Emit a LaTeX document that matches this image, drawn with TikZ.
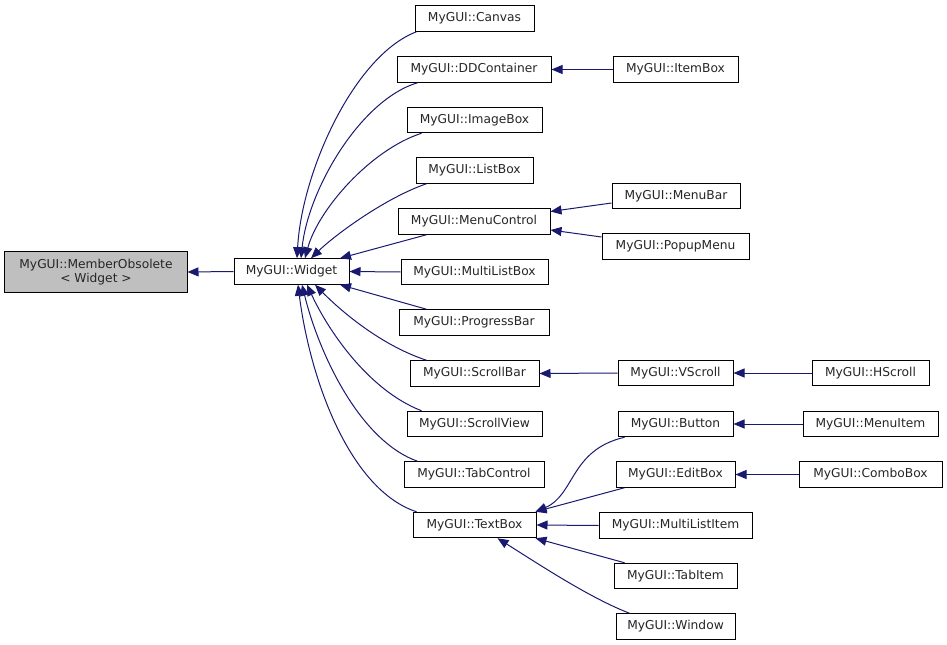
\documentclass[tikz,border=0pt]{standalone}
\usepackage{fontspec}
\setmainfont{DejaVu Sans}
\usetikzlibrary{arrows.meta}
\definecolor{edgeblue}{HTML}{191970}
\definecolor{grayfill}{HTML}{BFBFBF}
\tikzset{
  box/.style={draw=black, line width=1bp, fill=white, inner sep=0pt, minimum height=25.5bp,
    font=\fontsize{12.3}{14.5}\selectfont, text=black!85},
  arr/.style={draw=edgeblue, line width=1bp, {Triangle[length=11bp,width=9bp]}-},
}
\begin{document}
\begin{tikzpicture}[x=1bp,y=-1bp]
\useasboundingbox (0,0) rectangle (947,645);
% nodes
\node[box, fill=grayfill, minimum width=182bp, minimum height=40bp, align=center] (mo) at (96,272) {MyGUI::MemberObsolete\\[-1bp]{}< Widget >};
\node[box, minimum width=115bp] (widget) at (291.5,271.5) {MyGUI::Widget};
\node[box, minimum width=119bp] (canvas) at (474.5,18.5) {MyGUI::Canvas};
\node[box, minimum width=154bp] (ddc) at (474,69.5) {MyGUI::DDContainer};
\node[box, minimum width=135bp] (imagebox) at (474.5,120) {MyGUI::ImageBox};
\node[box, minimum width=117bp] (listbox) at (474.5,170.5) {MyGUI::ListBox};
\node[box, minimum width=152bp] (menuctl) at (474,221.5) {MyGUI::MenuControl};
\node[box, minimum width=147bp] (mlb) at (474.5,272) {MyGUI::MultiListBox};
\node[box, minimum width=150bp] (progress) at (474,322.5) {MyGUI::ProgressBar};
\node[box, minimum width=129bp] (scrollbar) at (474.5,373.5) {MyGUI::ScrollBar};
\node[box, minimum width=135bp] (scrollview) at (474.5,424) {MyGUI::ScrollView};
\node[box, minimum width=140bp] (tabctl) at (474,474.5) {MyGUI::TabControl};
\node[box, minimum width=123bp] (textbox) at (474.5,525) {MyGUI::TextBox};
\node[box, minimum width=125bp] (itembox) at (675.5,69.5) {MyGUI::ItemBox};
\node[box, minimum width=128bp] (menubar) at (676,196) {MyGUI::MenuBar};
\node[box, minimum width=147bp] (popup) at (675.5,246.5) {MyGUI::PopupMenu};
\node[box, minimum width=115bp] (vscroll) at (675.5,373) {MyGUI::VScroll};
\node[box, minimum width=117bp] (hscroll) at (870.5,373) {MyGUI::HScroll};
\node[box, minimum width=115bp] (button) at (675.5,424) {MyGUI::Button};
\node[box, minimum width=135bp] (menuitem) at (870.5,424) {MyGUI::MenuItem};
\node[box, minimum width=119bp] (editbox) at (675.5,474.5) {MyGUI::EditBox};
\node[box, minimum width=143bp] (combobox) at (870.5,474.5) {MyGUI::ComboBox};
\node[box, minimum width=153bp] (mli) at (675.5,525.5) {MyGUI::MultiListItem};
\node[box, minimum width=123bp] (tabitem) at (675.5,576) {MyGUI::TabItem};
\node[box, minimum width=119bp] (window) at (675.5,626.5) {MyGUI::Window};
% edges
\draw[arr] (mo.east) -- (widget.west);
\draw[arr] ([xshift=5.5bp]widget.north) .. controls (302,170) and (355,55) .. ([xshift=2bp]canvas.south west);
\draw[arr] ([xshift=9.5bp]widget.north) .. controls (308,190) and (360,100) .. ([xshift=21bp]ddc.south west);
\draw[arr] ([xshift=13.5bp]widget.north) .. controls (318,210) and (370,150) .. ([xshift=15bp]imagebox.south west);
\draw[arr] ([xshift=19.5bp]widget.north) .. controls (335,235) and (385,198) .. ([xshift=11bp]listbox.south west);
\draw[arr] ([xshift=48.5bp]widget.north) -- ([xshift=29bp]menuctl.south west);
\draw[arr] (widget.east) -- (mlb.west);
\draw[arr] ([xshift=48.5bp]widget.south) -- ([xshift=28bp]progress.north west);
\draw[arr] ([xshift=23.5bp]widget.south) .. controls (340,310) and (380,345) .. ([xshift=17bp]scrollbar.north west);
\draw[arr] ([xshift=15.5bp]widget.south) .. controls (328,330) and (368,390) .. ([xshift=15bp]scrollview.north west);
\draw[arr] ([xshift=10.5bp]widget.south) .. controls (318,350) and (358,440) .. ([xshift=14bp]tabctl.north west);
\draw[arr] ([xshift=6.5bp]widget.south) .. controls (310,380) and (350,490) .. ([xshift=4bp]textbox.north west);
\draw[arr] (ddc.east) -- (itembox.west);
\draw[arr] ([yshift=10bp]menuctl.east) -- ([yshift=-7bp]menubar.west);
\draw[arr] ([yshift=-8.5bp]menuctl.east) -- ([yshift=9.5bp]popup.west);
\draw[arr] (scrollbar.east) -- (vscroll.west);
\draw[arr] (vscroll.east) -- (hscroll.west);
\draw[arr] (button.east) -- (menuitem.west);
\draw[arr] (editbox.east) -- (combobox.west);
\draw[arr] ([xshift=-1bp]textbox.north east) .. controls (575,495) and (570,450) .. ([xshift=7bp]button.south west);
\draw[arr] ([xshift=-1bp]textbox.north east) -- ([xshift=9bp]editbox.south west);
\draw[arr] (textbox.east) -- (mli.west);
\draw[arr] ([xshift=-1bp]textbox.south east) -- ([xshift=11bp]tabitem.north west);
\draw[arr] ([xshift=23bp]textbox.south) .. controls (540,565) and (590,598) .. ([xshift=14bp]window.north west);
\end{tikzpicture}
\end{document}
